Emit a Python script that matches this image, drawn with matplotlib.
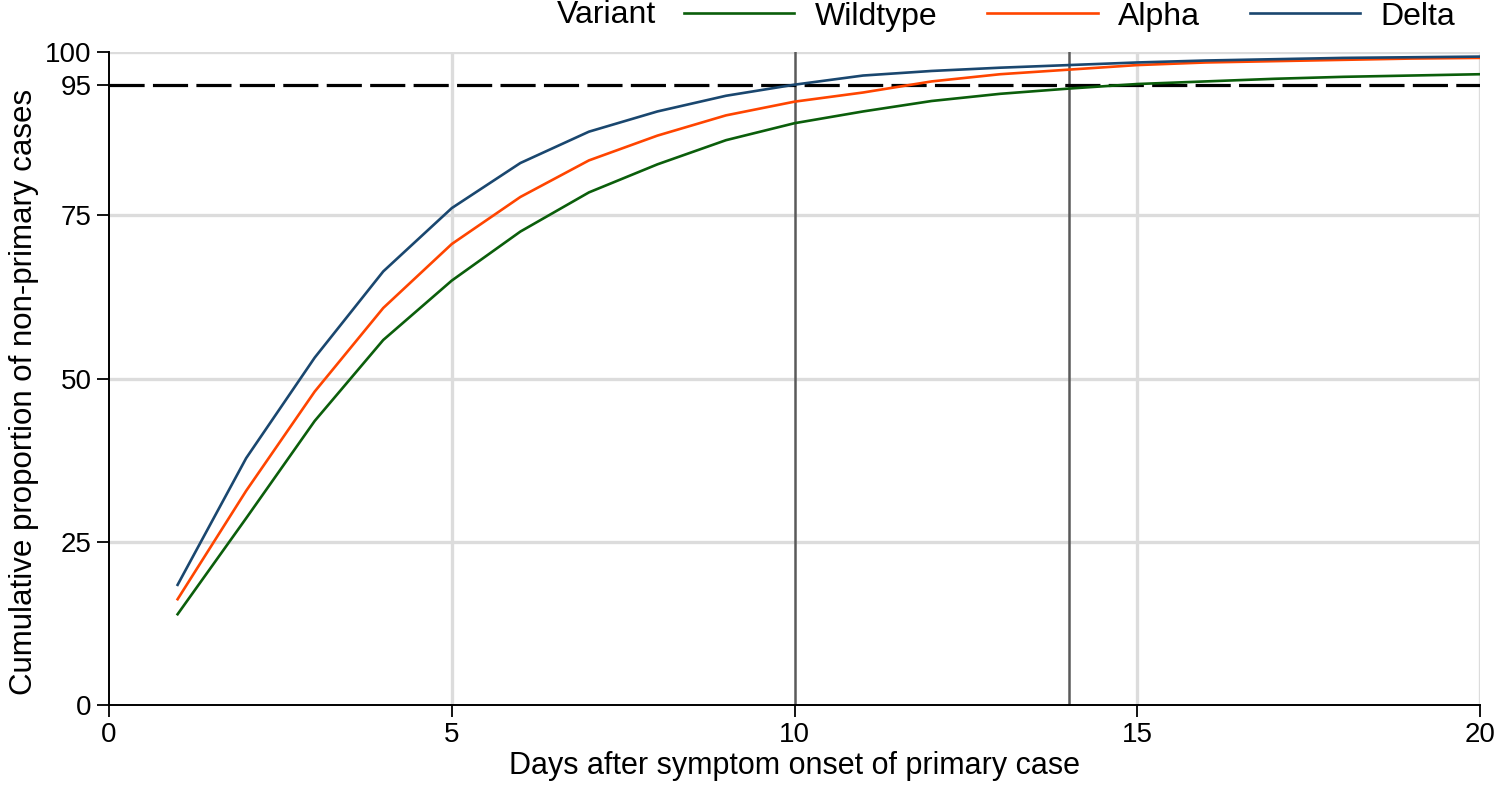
import matplotlib
matplotlib.use("Agg")
from matplotlib import pyplot as plt
from matplotlib.lines import Line2D

plt.rcParams['font.family'] = ['Liberation Sans', 'DejaVu Sans']

# days after symptom onset of the primary case
days = list(range(1, 21))

# cumulative proportion (%) of non-primary cases
wildtype = [13.9, 28.6, 43.5, 55.9, 65.0, 72.5, 78.5, 82.8, 86.5, 89.1,
            90.9, 92.5, 93.6, 94.4, 95.1, 95.5, 95.9, 96.2, 96.4, 96.6]
alpha = [16.2, 32.8, 48.0, 60.8, 70.6, 77.8, 83.4, 87.2, 90.3, 92.4,
         93.8, 95.5, 96.6, 97.3, 98.0, 98.4, 98.6, 98.8, 99.0, 99.1]
delta = [18.4, 37.8, 53.2, 66.4, 76.1, 83.0, 87.8, 90.9, 93.3, 95.0,
         96.4, 97.1, 97.6, 98.0, 98.4, 98.7, 98.9, 99.1, 99.2, 99.3]

variant_names = ['Wildtype', 'Alpha', 'Delta']
variant_colors = ['#0b5e0b', '#ff4500', '#1a476f']

y_ticks = [0, 25, 50, 75, 95, 100]
x_ticks = [0, 5, 10, 15, 20]
ref_days = [10, 14]
threshold = 95

fig = plt.figure(figsize=(15, 7.87), dpi=100)
ax = fig.add_axes([0.0727, 0.1042, 0.914, 0.8297])

grid_col = '#dcdcdc'
for yv in [25, 50, 75, 100]:
    ax.axhline(yv, color=grid_col, lw=2.4, zorder=0)
for xv in [5, 15, 20]:
    ax.axvline(xv, color=grid_col, lw=2.4, zorder=0)

for xv in ref_days:
    ax.axvline(xv, color='#5a5a5a', lw=1.8, zorder=1)

ax.axhline(threshold, color='black', lw=2.3, dashes=(11, 2.6), zorder=2)

series = [wildtype, alpha, delta]
handles = []
for vals, name, col in zip(series, variant_names, variant_colors):
    ln, = ax.plot(days, vals, color=col, lw=1.9, label=name, zorder=3)
    handles.append(ln)

ax.set_xlim(0, 20)
ax.set_ylim(0, 100)
ax.set_xticks(x_ticks)
ax.set_yticks(y_ticks)
ax.tick_params(axis='both', labelsize=20, length=8.6, width=1.3, color='black')
ax.tick_params(axis='y', pad=4)
ax.tick_params(axis='x', pad=3.5)

for side in ['top', 'right']:
    ax.spines[side].set_visible(False)
for side in ['left', 'bottom']:
    ax.spines[side].set_linewidth(1.4)

ax.set_xlabel('Days after symptom onset of primary case', fontsize=22, labelpad=2)
ax.set_ylabel('Cumulative proportion of non-primary cases', fontsize=22.5, labelpad=4)
ax.yaxis.label.set_y(0.48)

# legend along the top
fig.text(0.371, 0.981, 'Variant', fontsize=23, ha='left', va='center')
fig.legend(handles=[Line2D([], [], color=c, lw=1.9) for c in variant_colors],
           labels=variant_names, loc='center right', bbox_to_anchor=(0.981, 0.979),
           ncol=3, frameon=False, fontsize=23, handlelength=3.45,
           handletextpad=0.65, columnspacing=1.55, borderpad=0)

fig.savefig('out.png', dpi=100)
